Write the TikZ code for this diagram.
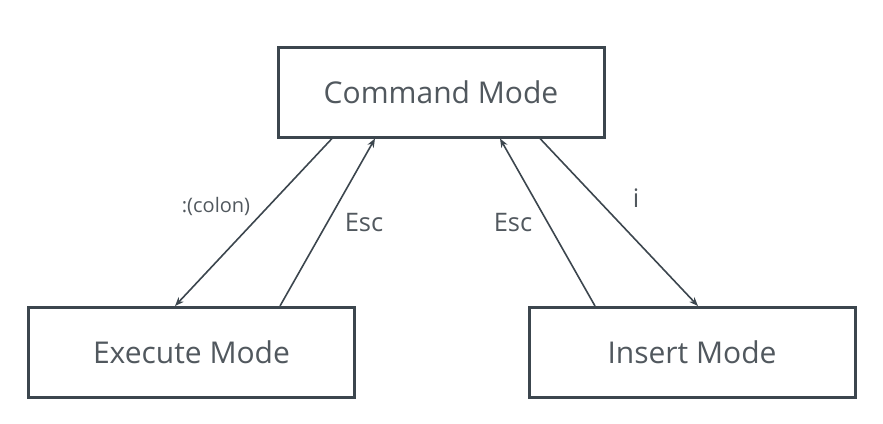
\documentclass[tikz,border=0pt]{standalone}
\usepackage{fontspec}
\setmainfont{Open Sans}
\usetikzlibrary{arrows.meta}
\pgfdeclarelayer{edgelayer}
\pgfdeclarelayer{nodelayer}
\pgfsetlayers{edgelayer,nodelayer,main}
\definecolor{boxline}{HTML}{3C464E}
\definecolor{boxtext}{HTML}{51585E}
\tikzset{x=1pt,y=-1pt}
\tikzstyle{none}=[inner sep=0pt,text=boxtext]
\tikzstyle{mode}=[draw=boxline,line width=3pt,fill=white,minimum width=326pt,minimum height=90pt,text=boxtext,font=\fontsize{30}{35}\selectfont]
\tikzstyle{trans}=[draw=boxline,line width=1.6pt,-{Stealth[length=9pt,width=7pt]}]
\tikzstyle{lbl}=[style=none,font=\fontsize{25.5}{30}\selectfont]

\begin{document}
\begin{tikzpicture}
	\useasboundingbox (0,0) rectangle (883,423);
	\begin{pgfonlayer}{nodelayer}
		\node [style=mode] (cmd) at (441, 92) {Command Mode};
		\node [style=mode] (exec) at (191.5, 352.5) {Execute Mode};
		\node [style=mode] (ins) at (692, 352.5) {Insert Mode};
		\node [style=lbl, font=\fontsize{20}{24}\selectfont] (colon) at (216, 206) {:(colon)};
		\node [style=lbl] (escl) at (364, 223) {Esc};
		\node [style=lbl] (escr) at (513, 223) {Esc};
		\node [style=lbl] (ikey) at (636, 198) {i};
	\end{pgfonlayer}
	\begin{pgfonlayer}{edgelayer}
		\draw [style=trans] ([xshift=-109pt]cmd.south) to ([xshift=-16.5pt]exec.north);
		\draw [style=trans] ([xshift=88.5pt]exec.north) to ([xshift=-66pt]cmd.south);
		\draw [style=trans] ([xshift=-97pt]ins.north) to ([xshift=59pt]cmd.south);
		\draw [style=trans] ([xshift=99pt]cmd.south) to ([xshift=6pt]ins.north);
	\end{pgfonlayer}
\end{tikzpicture}
\end{document}
